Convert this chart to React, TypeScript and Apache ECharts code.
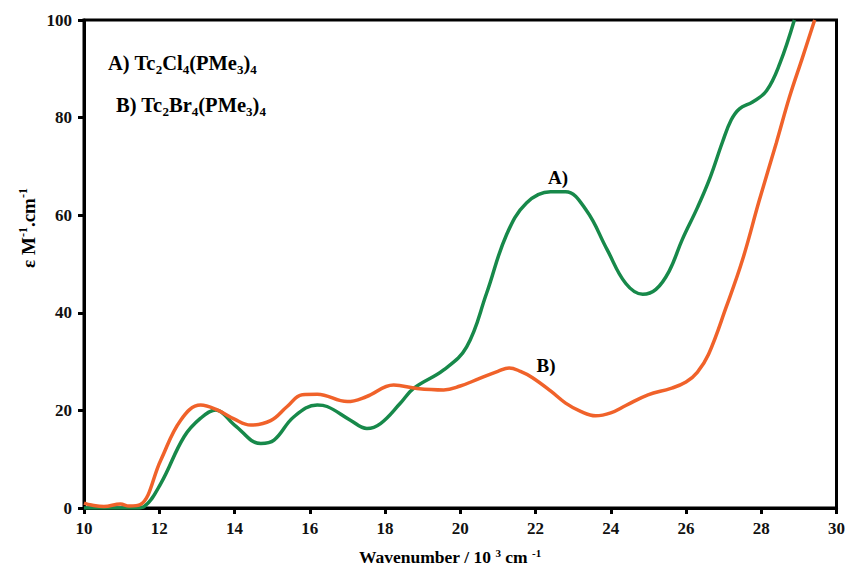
import React, { useEffect, useRef } from "react";
import * as echarts from "echarts";

const wavenumberA = [10, 10.5, 11, 11.4, 11.6, 12.04, 12.66, 13.1, 13.5, 14.0, 14.7, 15.05, 15.58, 16.2, 16.46, 17.08, 17.52, 17.88, 18.4, 18.76, 19.56, 20.17, 20.7, 21.23, 21.76, 22.4, 22.8, 23.35, 23.9, 24.4, 24.85, 25.2, 25.55, 25.9, 26.3, 26.63, 26.97, 27.2, 27.42, 27.77, 28.14, 28.49, 28.88];
const epsilonA = [0, 0, 0, 0, 0.3, 5, 14.6, 18.4, 20.1, 17, 13.2, 13.9, 18.7, 21.1, 20.8, 18, 16.3, 17.3, 21.4, 24.5, 28.3, 33, 44, 56, 62.5, 64.8, 64.8, 61, 53, 46, 43.8, 44.8, 48.5, 55, 61.5, 67.5, 75, 79.5, 81.8, 83.2, 85.5, 91, 100];

const wavenumberB = [10, 10.2, 10.53, 10.97, 11.2, 11.5, 12.04, 12.57, 13.1, 13.54, 14.0, 14.43, 14.96, 15.4, 15.8, 16.2, 17.0, 17.5, 18.23, 18.85, 19.56, 20.0, 20.5, 21.0, 21.3, 21.6, 21.9, 22.4, 22.8, 23.2, 23.6, 24.0, 24.4, 24.99, 25.6, 26.0, 26.3, 26.6, 27.07, 27.5, 27.95, 28.4, 28.75, 29.1, 29.42];
const epsilonB = [1, 0.6, 0.3, 0.8, 0.4, 0.7, 9.8, 18, 21.1, 20.1, 18.2, 17, 17.9, 20.8, 23.2, 23.3, 21.8, 22.8, 25.2, 24.5, 24.2, 25, 26.5, 28, 28.7, 28, 26.8, 24, 21.5, 19.8, 18.9, 19.5, 21, 23.2, 24.5, 25.8, 27.8, 31.5, 41.2, 50.8, 63.1, 74.8, 84.2, 92.4, 100];

const xMin = 10, xMax = 30, xStep = 2;
const yMin = 0, yMax = 100, yStep = 20;

const GREEN = "#17894a";
const ORANGE = "#f0622a";
const FONT = "Liberation Serif";

export default function App() {
  const ref = useRef<HTMLDivElement>(null);
  useEffect(() => {
    if (!ref.current) return;
    const chart = echarts.init(ref.current, null, { renderer: "svg" });
    const base = { fontFamily: FONT, fontWeight: "bold", color: "#111" };
    const rich = {
      n: { ...base, fontSize: 20.5, lineHeight: 26, verticalAlign: "middle" },
      sub: { ...base, fontSize: 13, lineHeight: 26, verticalAlign: "bottom", padding: [9, 0, 0, 0] },
    };
    const richX = {
      n: { ...base, fontSize: 17.5, lineHeight: 22 },
      sup: { ...base, fontSize: 11, lineHeight: 22, padding: [0, 0, 9, 0] },
    };
    const richY = {
      n: { ...base, fontSize: 19, lineHeight: 24 },
      sup: { ...base, fontSize: 12, lineHeight: 24, padding: [0, 0, 10, 0] },
    };
    chart.setOption({
      animation: false,
      backgroundColor: "#fff",
      grid: { left: 84, right: 11, top: 20, bottom: 59, show: true, borderColor: "#000", borderWidth: 3 },
      xAxis: {
        type: "value", min: xMin, max: xMax, interval: xStep,
        axisLine: { lineStyle: { color: "#000", width: 3 } },
        axisTick: { show: true, length: 6, lineStyle: { color: "#000", width: 3 } },
        axisLabel: { ...base, fontSize: 17, margin: 12 },
        splitLine: { show: false },
      },
      yAxis: {
        type: "value", min: yMin, max: yMax, interval: yStep,
        axisLine: { show: true, lineStyle: { color: "#000", width: 3 } },
        axisTick: { show: true, length: 6, lineStyle: { color: "#000", width: 3 } },
        axisLabel: { ...base, fontSize: 17, margin: 12 },
        splitLine: { show: false },
      },
      series: [
        {
          name: "A", type: "line", smooth: 0.4, symbol: "none",
          lineStyle: { color: GREEN, width: 3.5 },
          data: wavenumberA.map((x, i) => [x, epsilonA[i]]),
        },
        {
          name: "B", type: "line", smooth: 0.4, symbol: "none",
          lineStyle: { color: ORANGE, width: 3.5 },
          data: wavenumberB.map((x, i) => [x, epsilonB[i]]),
        },
      ],
      graphic: [
        {
          type: "text", left: 108, top: 52,
          style: { text: "{n|A) Tc}{sub|2}{n|Cl}{sub|4}{n|(PMe}{sub|3}{n|)}{sub|4}", rich },
        },
        {
          type: "text", left: 116, top: 94,
          style: { text: "{n|B) Tc}{sub|2}{n|Br}{sub|4}{n|(PMe}{sub|3}{n|)}{sub|4}", rich },
        },
        {
          type: "text", x: 558, y: 177,
          style: { text: "A)", ...base, fontSize: 19, align: "center", verticalAlign: "middle" },
        },
        {
          type: "text", x: 546, y: 365,
          style: { text: "B)", ...base, fontSize: 19, align: "center", verticalAlign: "middle" },
        },
        {
          type: "text", x: 450, y: 557,
          style: { text: "{n|Wavenumber / 10 }{sup|3}{n| cm }{sup|-1}", rich: richX, align: "center", verticalAlign: "middle" },
        },
        {
          type: "text", x: 28, y: 228, rotation: Math.PI / 2,
          style: { text: "{n|ε M}{sup|-1}{n|.cm}{sup|-1}", rich: richY, align: "center", verticalAlign: "middle" },
        },
      ],
    });
    return () => chart.dispose();
  }, []);
  return <div ref={ref} style={{ width: 848, height: 567, position: "absolute", left: 0, top: 0 }} />;
}
